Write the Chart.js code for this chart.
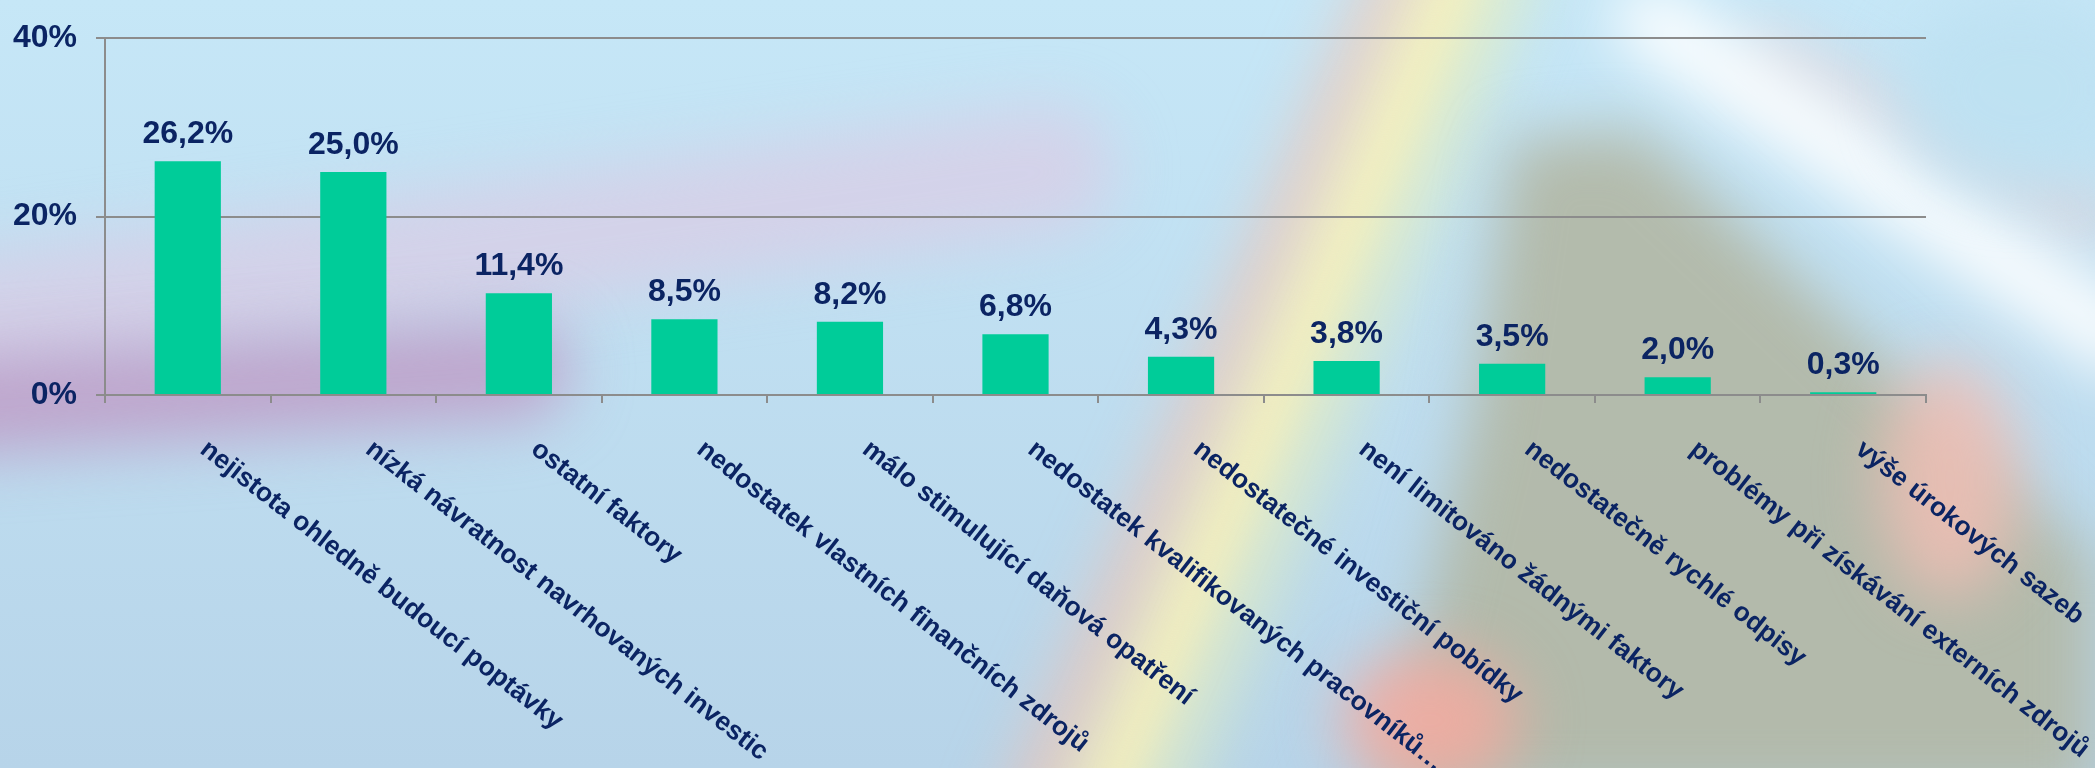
<!DOCTYPE html>
<html>
<head>
<meta charset="utf-8">
<script src="https://cdn.jsdelivr.net/npm/chart.js@4"></script>
<style>
  html, body { margin: 0; padding: 0; }
  body { width: 2095px; height: 768px; overflow: hidden; position: relative; background: #bfdcef; }
  #bg, #wrap { position: absolute; left: 0; top: 0; width: 2095px; height: 768px; }
</style>
</head>
<body>
<canvas id="bg" width="2095" height="768"></canvas>
<div id="wrap"><canvas id="myChart"></canvas></div>
<script>
const categories = [
  "nejistota ohledně budoucí poptávky",
  "nízká návratnost navrhovaných investic",
  "ostatní faktory",
  "nedostatek vlastních finančních zdrojů",
  "málo stimulující daňová opatření",
  "nedostatek kvalifikovaných pracovníků…",
  "nedostatečné investiční pobídky",
  "není limitováno žádnými faktory",
  "nedostatečně rychlé odpisy",
  "problémy při získávání externích zdrojů",
  "výše úrokových sazeb",
];
const shares = [26.2, 25.0, 11.4, 8.5, 8.2, 6.8, 4.3, 3.8, 3.5, 2.0, 0.3];
const yTicks = [0, 20, 40];

const navy = "#0b2463";
const gray = "#8c8c8c";
const fontFamily = '"Liberation Sans", Arial, sans-serif';

// blurry photo-like backdrop
const paintBackground = () => {
  const c = document.getElementById("bg").getContext("2d");
  const g = c.createLinearGradient(0, 0, 0, 768);
  g.addColorStop(0, "#c6e7f7");
  g.addColorStop(1, "#b7d4e9");
  c.fillStyle = g;
  c.fillRect(0, 0, 2095, 768);
  c.filter = "blur(30px)";
  c.lineCap = "round";
  const band = (x1, y1, x2, y2, w, col) => {
    c.strokeStyle = col;
    c.lineWidth = w;
    c.beginPath();
    c.moveTo(x1, y1);
    c.lineTo(x2, y2);
    c.stroke();
  };
  // lavender / purple band on the left
  band(-100, 330, 1050, 170, 130, "rgba(224,200,226,0.6)");
  band(-100, 410, 520, 370, 100, "rgba(190,152,196,0.8)");
  // yellow rainbow streak
  band(1410, -40, 1030, 820, 70, "rgba(250,190,170,0.55)");
  band(1470, -40, 1100, 820, 70, "rgba(255,243,180,0.95)");
  band(1520, -40, 1160, 820, 50, "rgba(215,235,200,0.6)");
  // gray-green block on the right
  c.fillStyle = "rgba(178,184,168,0.95)";
  c.beginPath();
  c.moveTo(1510, 140);
  c.lineTo(1640, 130);
  c.lineTo(2095, 560);
  c.lineTo(2095, 800);
  c.lineTo(1380, 800);
  c.lineTo(1470, 420);
  c.closePath();
  c.fill();
  // pink / red spots
  c.fillStyle = "rgba(245,170,160,0.85)";
  c.beginPath(); c.ellipse(1430, 720, 90, 70, 0, 0, Math.PI * 2); c.fill();
  c.fillStyle = "rgba(242,190,180,0.8)";
  c.beginPath(); c.ellipse(1950, 480, 70, 120, 0, 0, Math.PI * 2); c.fill();
  band(1760, 50, 2095, 220, 40, "rgba(240,200,200,0.6)");
  // white streak top right
  band(1650, 20, 2120, 340, 70, "rgba(255,255,255,0.95)");
  c.fillStyle = "rgba(190,225,242,0.9)";
  c.beginPath(); c.ellipse(2020, 90, 120, 100, 0, 0, Math.PI * 2); c.fill();
  c.filter = "none";
};

const valueLabels = {
  id: "valueLabels",
  afterDatasetsDraw(chart) {
    const ctx = chart.ctx;
    const meta = chart.getDatasetMeta(0);
    ctx.save();
    ctx.fillStyle = navy;
    ctx.font = "bold 32px " + fontFamily;
    ctx.textAlign = "center";
    ctx.textBaseline = "alphabetic";
    meta.data.forEach((bar, i) => {
      const txt = shares[i].toFixed(1).replace(".", ",") + "%";
      ctx.fillText(txt, bar.x, bar.y - 18);
    });
    ctx.restore();
  },
};

const slantedLabels = {
  id: "slantedLabels",
  afterDraw(chart) {
    const ctx = chart.ctx;
    const xs = chart.scales.x;
    ctx.save();
    ctx.fillStyle = navy;
    ctx.font = "bold 26.5px " + fontFamily;
    ctx.textAlign = "left";
    ctx.textBaseline = "alphabetic";
    categories.forEach((label, i) => {
      const x = xs.getPixelForValue(i);
      ctx.save();
      ctx.translate(x + 11, xs.top + 57);
      ctx.rotate((38 * Math.PI) / 180);
      ctx.fillText(label, 0, 0);
      ctx.restore();
    });
    ctx.restore();
  },
};

const makeGraph = () => {
  const chart_ctx = document.getElementById("myChart");
  const data = {
    labels: categories,
    datasets: [
      {
        data: shares,
        backgroundColor: "#00cc99",
        borderWidth: 0,
        barPercentage: 0.4,
        categoryPercentage: 1,
      },
    ],
  };
  const config = {
    type: "bar",
    data,
    options: {
      responsive: true,
      maintainAspectRatio: false,
      animation: false,
      layout: { padding: { top: 28, right: 169, left: 0, bottom: 0 } },
      plugins: {
        legend: { display: false },
        tooltip: { enabled: false },
      },
      scales: {
        x: {
          ticks: { display: false },
          grid: {
            display: true,
            drawOnChartArea: false,
            drawTicks: true,
            tickLength: 8,
            color: gray,
            lineWidth: 2,
            offset: true,
          },
          border: { display: true, color: gray, width: 2 },
          afterFit: (s) => { s.height = 373; },
        },
        y: {
          min: 0,
          max: 40,
          afterBuildTicks: (s) => { s.ticks = yTicks.map((v) => ({ value: v })); },
          ticks: {
            callback: (v) => v + "%",
            color: navy,
            font: { family: fontFamily, size: 32, weight: "bold" },
            padding: 19,
          },
          grid: { color: gray, lineWidth: 2, tickLength: 9, drawTicks: true },
          border: { display: true, color: gray, width: 2 },
          afterFit: (s) => { s.width = 105; },
        },
      },
    },
    plugins: [valueLabels, slantedLabels],
  };
  return new Chart(chart_ctx, config);
};

paintBackground();
makeGraph();
</script>
</body>
</html>
